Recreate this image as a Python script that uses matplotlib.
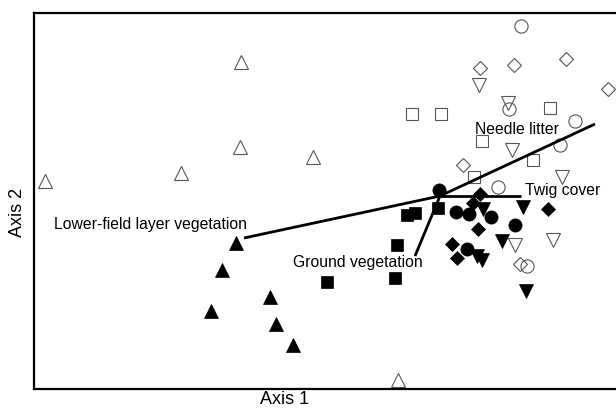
import matplotlib
matplotlib.use('Agg')
import matplotlib.pyplot as plt

plt.rcParams['font.family'] = ['Liberation Sans', 'DejaVu Sans']

# site scores (axis 1, axis 2), ten groups of six
open_tri_up = [(241, 347), (240, 262), (313, 252), (181, 236), (45, 228), (398, 29)]
fill_tri_up = [(236, 166), (222, 139), (270, 112), (211, 98), (276, 85), (293, 64)]
open_square = [(412, 295), (441, 295), (550, 301), (482, 268), (533, 249), (474, 232)]
fill_square = [(407, 194), (415, 196), (438, 201), (397, 164), (395, 131), (327, 127)]
open_circle = [(521, 383), (509, 300), (575, 288), (560, 264), (498, 222), (527, 143)]
fill_circle = [(439, 219), (456, 197), (469, 195), (491, 192), (515, 184), (467, 160)]
open_diamond = [(480, 341), (514, 344), (566, 350), (608, 320), (463, 244), (520, 145)]
fill_diamond = [(480, 215), (473, 206), (548, 200), (478, 180), (452, 165), (457, 151)]
open_tri_down = [(479, 324), (508, 306), (512, 259), (562, 232), (515, 164), (553, 169)]
fill_tri_down = [(483, 200), (523, 202), (502, 168), (477, 153), (482, 149), (526, 118)]

# environmental vectors
origin = (440, 213)
vec_names = ['Lower-field layer vegetation', 'Needle litter', 'Twig cover', 'Ground vegetation']
vec_ends = [(244, 171), (595, 285), (521, 213), (415, 153)]
label_pos = [(150, 184), (517, 279), (563, 218), (358, 146)]

fig = plt.figure(figsize=(6.16, 4.09), dpi=100)
ax = fig.add_axes([34 / 616, 20 / 409, 584 / 616, 376 / 409])

for (ex, ey) in vec_ends:
    ax.plot([origin[0], ex], [origin[1], ey], color='black', lw=2, zorder=2,
            solid_capstyle='butt')

groups = [
    (open_tri_up, '^', False, 10),
    (open_square, 's', False, 9),
    (open_circle, 'o', False, 9.5),
    (open_diamond, 'D', False, 7.5),
    (open_tri_down, 'v', False, 10),
    (fill_tri_up, '^', True, 10),
    (fill_square, 's', True, 9),
    (fill_circle, 'o', True, 9.5),
    (fill_diamond, 'D', True, 7.5),
    (fill_tri_down, 'v', True, 10),
]
for pts, mk, filled, ms in groups:
    xs = [p[0] for p in pts]
    ys = [p[1] for p in pts]
    if filled:
        ax.plot(xs, ys, ls='none', marker=mk, ms=ms, mfc='black', mec='black',
                mew=0.5, zorder=3)
    else:
        ax.plot(xs, ys, ls='none', marker=mk, ms=ms, mfc='none', mec='#555555',
                mew=0.8, zorder=1.5)

for name, (lx, ly) in zip(vec_names, label_pos):
    ax.text(lx, ly, name, fontsize=11.3, ha='center', va='center', zorder=4)

ax.set_xlim(34, 618)
ax.set_ylim(20, 396)
ax.set_xticks([])
ax.set_yticks([])
for s in ax.spines.values():
    s.set_linewidth(1.6)

ax.set_xlabel('Axis 1', fontsize=13)
ax.xaxis.set_label_coords((285 - 34) / 584, -0.005, transform=ax.transAxes)
ax.xaxis.label.set_va('top')
ax.set_ylabel('Axis 2', fontsize=13)
ax.yaxis.set_label_coords(-0.014, 0.47, transform=ax.transAxes)

fig.savefig('out.png', dpi=100)
